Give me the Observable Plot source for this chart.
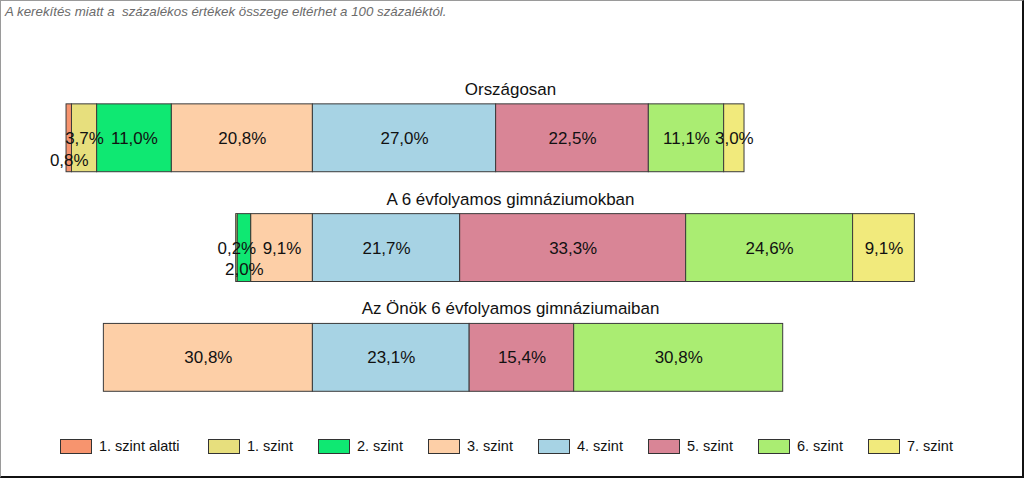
<!DOCTYPE html>
<html>
<head>
<meta charset="utf-8">
<script src="https://cdn.jsdelivr.net/npm/d3@7"></script>
<script src="https://cdn.jsdelivr.net/npm/@observablehq/plot@0.6"></script>
<style>
  html, body { margin: 0; padding: 0; background: #fff; }
  #frame { position: relative; width: 1024px; height: 478px; box-sizing: border-box;
    border-left: 1px solid #9a9a9a; border-top: 1px solid #9a9a9a;
    border-right: 2px solid #111; border-bottom: 2px solid #111; overflow: hidden;
    font-family: "Liberation Sans", Arial, sans-serif; }
  #note { position: absolute; left: 4px; top: 3px; font-size: 13.3px; font-style: italic; color: #6b6b6b; white-space: pre; }
  #chart { position: absolute; left: -1px; top: 29px; }
  #legend { position: absolute; left: 59px; top: 437px; display: flex; }
  .item { width: 110px; display: flex; align-items: center; font-size: 14.5px; color: #111; white-space: nowrap; flex: none; }
  .item.first { width: 148px; }
  .sw { width: 30px; height: 13px; border: 1px solid #333; margin-right: 7px; flex: none; }
</style>
</head>
<body>
<div id="frame">
  <div id="note">A kerekítés miatt a  százalékos értékek összege eltérhet a 100 százaléktól.</div>
  <div id="chart"></div>
  <div id="legend"></div>
</div>
<script>
const groups = ["Országosan", "A 6 évfolyamos gimnáziumokban", "Az Önök 6 évfolyamos gimnáziumaiban"];
const levels = ["1. szint alatti", "1. szint", "2. szint", "3. szint", "4. szint", "5. szint", "6. szint", "7. szint"];
const valuesOrszagosan = [0.8, 3.7, 11.0, 20.8, 27.0, 22.5, 11.1, 3.0];
const values6Evf = [0, 0.2, 2.0, 9.1, 21.7, 33.3, 24.6, 9.1];
const valuesOnok = [0, 0, 0, 30.8, 23.1, 15.4, 30.8, 0];
const levelColors = ["#f7946e", "#e7df7d", "#0fe872", "#fdcfa7", "#a7d3e4", "#d98596", "#aaed72", "#f1ea7c"];

const seriesByGroup = [valuesOrszagosan, values6Evf, valuesOnok];
const splitIndex = 4; // levels below 4. szint go left of zero

const rows = [];
groups.forEach((g, gi) => {
  const v = seriesByGroup[gi];
  let acc = 0;
  for (let i = splitIndex - 1; i >= 0; i--) {
    const x2 = -acc; acc += v[i];
    if (v[i] > 0) rows.push({group: g, level: levels[i], value: v[i], x1: -acc, x2});
  }
  acc = 0;
  for (let i = splitIndex; i < levels.length; i++) {
    const x1 = acc; acc += v[i];
    if (v[i] > 0) rows.push({group: g, level: levels[i], value: v[i], x1, x2: acc});
  }
});

const shiftedDown = new Set(["Országosan|1. szint alatti", "A 6 évfolyamos gimnáziumokban|2. szint"]);
const fmt = d => d3.format(".1f")(d).replace(".", ",") + "%";

const plot = Plot.plot({
  width: 1024,
  height: 420,
  marginLeft: 41,
  marginRight: 31,
  marginTop: 0,
  marginBottom: 0,
  x: {domain: [-40, 100], axis: null},
  y: {domain: groups, range: [53, 383], paddingInner: 0.382, paddingOuter: 0.191, axis: null},
  color: {domain: levels, range: levelColors},
  style: {fontFamily: "'Liberation Sans', Arial, sans-serif"},
  marks: [
    Plot.barX(rows, {x1: "x1", x2: "x2", y: "group", fill: "level", stroke: "#3a3a3a", strokeWidth: 1}),
    Plot.text(rows.filter(d => !shiftedDown.has(d.group + "|" + d.level)), {
      x: d => (d.x1 + d.x2) / 2, y: "group", text: d => fmt(d.value), fontSize: 17, fill: "#111"
    }),
    Plot.text(rows.filter(d => shiftedDown.has(d.group + "|" + d.level)), {
      x: d => (d.x1 + d.x2) / 2, y: "group", dy: 22, text: d => fmt(d.value), fontSize: 17, fill: "#111"
    }),
    Plot.text(groups, {y: d => d, frameAnchor: "middle", dx: -6, dy: -49, text: d => d, fontSize: 17, fill: "#111"})
  ]
});
document.getElementById("chart").appendChild(plot);

const legend = document.getElementById("legend");
levels.forEach((l, i) => {
  const item = document.createElement("div");
  item.className = "item" + (i === 0 ? " first" : "");
  const sw = document.createElement("span");
  sw.className = "sw";
  sw.style.background = levelColors[i];
  item.appendChild(sw);
  item.appendChild(document.createTextNode(l));
  legend.appendChild(item);
});
</script>
</body>
</html>
